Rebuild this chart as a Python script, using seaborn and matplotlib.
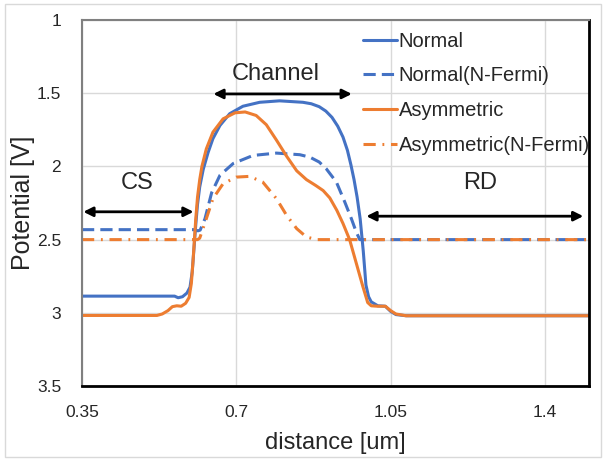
import matplotlib
matplotlib.use("Agg")
import matplotlib.pyplot as plt
import seaborn as sns
import pandas as pd
from matplotlib.patches import Rectangle

# potential profiles
normal_x = [0.35, 0.56, 0.568, 0.578, 0.588, 0.595, 0.600, 0.604, 0.608, 0.612,
            0.617, 0.625, 0.636, 0.647, 0.663, 0.685, 0.715, 0.753, 0.798, 0.851,
            0.870, 0.888, 0.903, 0.917, 0.930, 0.942, 0.952, 0.960, 0.967, 0.974,
            0.981, 0.988, 0.994, 1.000, 1.006, 1.021, 1.038, 1.050, 1.062, 1.085,
            1.5]
normal_y = [2.886, 2.886, 2.897, 2.89, 2.865, 2.825, 2.72, 2.56, 2.40, 2.26,
            2.14, 2.02, 1.905, 1.81, 1.72, 1.64, 1.589, 1.562, 1.552, 1.562,
            1.572, 1.592, 1.622, 1.665, 1.725, 1.80, 1.89, 1.99, 2.09, 2.21,
            2.36, 2.58, 2.81, 2.89, 2.925, 2.952, 2.955, 2.99, 3.012, 3.02,
            3.02]

normal_nf_x = [0.35, 0.605, 0.613, 0.618, 0.629, 0.644, 0.663, 0.693, 0.738, 0.791,
               0.844, 0.867, 0.888, 0.904, 0.927, 0.946, 0.961, 0.972, 0.980, 1.5]
normal_nf_y = [2.432, 2.432, 2.44, 2.435, 2.357, 2.18, 2.06, 1.98, 1.925, 1.909,
               1.92, 1.937, 1.97, 2.016, 2.107, 2.243, 2.357, 2.448, 2.50, 2.50]

asym_x = [0.35, 0.52, 0.532, 0.545, 0.555, 0.565, 0.575, 0.585, 0.593, 0.598,
          0.602, 0.605, 0.608, 0.612, 0.617, 0.622, 0.632, 0.647, 0.670, 0.697,
          0.720, 0.745, 0.768, 0.791, 0.814, 0.837, 0.859, 0.880, 0.897, 0.912,
          0.928, 0.942, 0.957, 0.972, 0.987, 0.998, 1.006, 1.020, 1.038, 1.050,
          1.062, 1.085, 1.5]
asym_y = [3.018, 3.018, 3.008, 2.985, 2.958, 2.952, 2.955, 2.935, 2.895, 2.80,
          2.64, 2.50, 2.36, 2.21, 2.09, 2.00, 1.88, 1.766, 1.675, 1.634,
          1.628, 1.652, 1.715, 1.82, 1.93, 2.03, 2.09, 2.13, 2.165, 2.215,
          2.30, 2.39, 2.50, 2.66, 2.82, 2.93, 2.952, 2.955, 2.955, 2.985,
          3.008, 3.02, 3.02]

asym_nf_x = [0.35, 0.612, 0.617, 0.632, 0.647, 0.670, 0.700, 0.730, 0.760, 0.791,
             0.814, 0.837, 0.859, 0.882, 1.5]
asym_nf_y = [2.50, 2.50, 2.49, 2.357, 2.22, 2.118, 2.073, 2.068, 2.107, 2.22,
             2.334, 2.425, 2.482, 2.50, 2.50]

series_names = ["Normal", "Normal(N-Fermi)", "Asymmetric", "Asymmetric(N-Fermi)"]
x_ticks = [0.35, 0.7, 1.05, 1.4]
x_tick_labels = ["0.35", "0.7", "1.05", "1.4"]
y_ticks = [1, 1.5, 2, 2.5, 3, 3.5]
y_tick_labels = ["1", "1.5", "2", "2.5", "3", "3.5"]

# region labels: (text, x, y) and arrows: (x_start, x_end, y)
region_labels = [("CS", 0.475, 2.11), ("Channel", 0.79, 1.37), ("RD", 1.254, 2.11)]
region_arrows = [(0.353, 0.603, 2.31), (0.648, 0.962, 1.505), (0.995, 1.487, 2.34)]

blue = "#4472C4"
orange = "#ED7D31"

sns.set_theme(style="white")
plt.rcParams["font.family"] = ["Liberation Sans", "DejaVu Sans"]

fig = plt.figure(figsize=(6.06, 4.59), dpi=100)
ax = fig.add_axes([0.1353, 0.159, 0.8367, 0.7974])

frames = [
    pd.DataFrame({"x": normal_x, "y": normal_y}),
    pd.DataFrame({"x": normal_nf_x, "y": normal_nf_y}),
    pd.DataFrame({"x": asym_x, "y": asym_y}),
    pd.DataFrame({"x": asym_nf_x, "y": asym_nf_y}),
]
colors = [blue, blue, orange, orange]
styles = ["-", (0, (4, 2)), "-", (0, (4, 2.2, 0.6, 2.2))]

for df, name, c, ls in zip(frames, series_names, colors, styles):
    sns.lineplot(data=df, x="x", y="y", ax=ax, color=c, linestyle=ls,
                 linewidth=2.2, label=name, estimator=None, sort=False)

ax.set_xlim(0.35, 1.5)
ax.set_ylim(3.5, 1)
ax.set_xticks(x_ticks)
ax.set_xticklabels(x_tick_labels)
ax.set_yticks(y_ticks)
ax.set_yticklabels(y_tick_labels)
ax.grid(True, color="#d9d9d9", linewidth=1)
ax.set_axisbelow(True)

for lab in ax.get_xticklabels() + ax.get_yticklabels():
    lab.set_fontsize(12.5)
ax.tick_params(axis="x", length=0, pad=14)
ax.tick_params(axis="y", length=0, pad=15)

ax.set_xlabel("distance [um]", fontsize=17, labelpad=8)
ax.set_ylabel("Potential [V]", fontsize=18, labelpad=1)

for side in ["left", "top"]:
    ax.spines[side].set_color("#808080")
    ax.spines[side].set_linewidth(1.5)
for side in ["right", "bottom"]:
    ax.spines[side].set_color("black")
    ax.spines[side].set_linewidth(2)

for text, tx, ty in region_labels:
    ax.text(tx, ty, text, fontsize=17, ha="center", va="center")
for x0, x1, yy in region_arrows:
    ax.annotate("", xy=(x1, yy), xytext=(x0, yy),
                arrowprops=dict(arrowstyle="<|-|>", color="black", lw=2,
                                mutation_scale=14, shrinkA=0, shrinkB=0))

ax.legend(loc="upper left", bbox_to_anchor=(0.555, 0.968), frameon=False,
          fontsize=14.5, handlelength=1.65, handletextpad=0.1, labelspacing=0.78,
          borderpad=0, borderaxespad=0)

fig.patches.append(Rectangle((5 / 606, 2 / 459), 596 / 606, 453 / 459,
                             transform=fig.transFigure, fill=False,
                             edgecolor="#d9d9d9", linewidth=1))

fig.savefig("out.png", dpi=100)
